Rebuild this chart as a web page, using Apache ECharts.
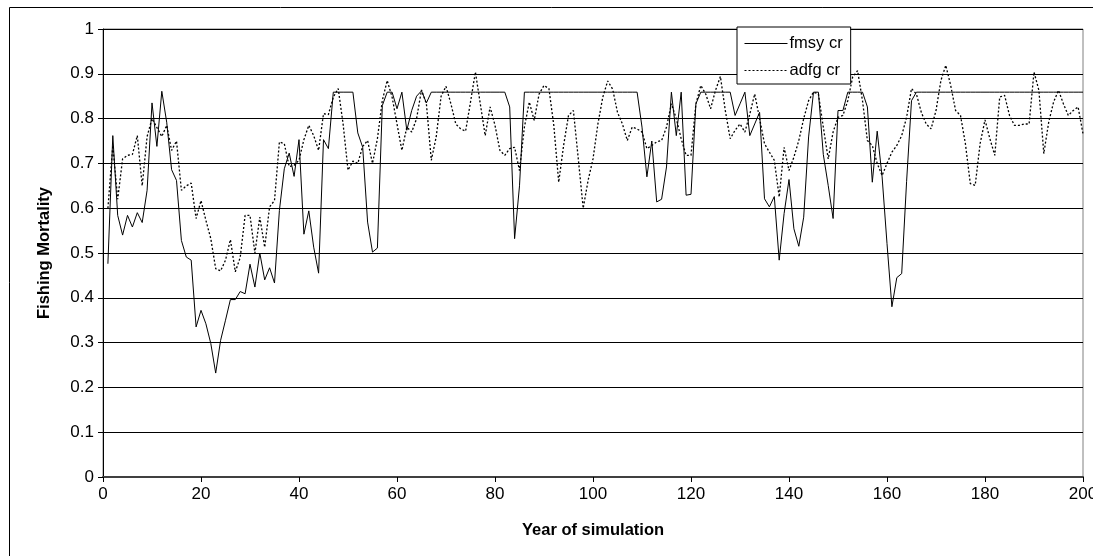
<!DOCTYPE html>
<html>
<head>
<meta charset="utf-8">
<script src="https://cdn.jsdelivr.net/npm/echarts@6/dist/echarts.min.js"></script>
<style>
html,body{margin:0;padding:0;background:#fff;}
#chart{width:1093px;height:556px;}
</style>
</head>
<body>
<div id="chart"></div>
<script>
// Years of simulation (x categories)
const years = [
1,2,3,4,5,6,7,8,9,10,11,12,13,14,15,16,17,18,19,20,
21,22,23,24,25,26,27,28,29,30,31,32,33,34,35,36,37,38,39,40,
41,42,43,44,45,46,47,48,49,50,51,52,53,54,55,56,57,58,59,60,
61,62,63,64,65,66,67,68,69,70,71,72,73,74,75,76,77,78,79,80,
81,82,83,84,85,86,87,88,89,90,91,92,93,94,95,96,97,98,99,100,
101,102,103,104,105,106,107,108,109,110,111,112,113,114,115,116,117,118,119,120,
121,122,123,124,125,126,127,128,129,130,131,132,133,134,135,136,137,138,139,140,
141,142,143,144,145,146,147,148,149,150,151,152,153,154,155,156,157,158,159,160,
161,162,163,164,165,166,167,168,169,170,171,172,173,174,175,176,177,178,179,180,
181,182,183,184,185,186,187,188,189,190,191,192,193,194,195,196,197,198,199,200];

// fmsy cr (solid)
const fmsyCr = [
0.476,0.762,0.584,0.540,0.584,0.558,0.590,0.568,0.640,0.835,
0.738,0.861,0.792,0.686,0.662,0.528,0.491,0.484,0.335,0.372,
0.342,0.298,0.232,0.305,0.350,0.396,0.396,0.414,0.409,0.475,
0.424,0.500,0.440,0.467,0.433,0.595,0.688,0.723,0.671,0.753,
0.542,0.594,0.513,0.455,0.753,0.733,0.859,0.859,0.859,0.859,
0.859,0.768,0.736,0.569,0.502,0.511,0.829,0.859,0.859,0.822,
0.859,0.774,0.818,0.850,0.862,0.835,0.859,0.859,0.859,0.859,
0.859,0.859,0.859,0.859,0.859,0.859,0.859,0.859,0.859,0.859,
0.859,0.859,0.826,0.532,0.650,0.859,0.859,0.859,0.859,0.859,
0.859,0.859,0.859,0.859,0.859,0.859,0.859,0.859,0.859,0.859,
0.859,0.859,0.859,0.859,0.859,0.859,0.859,0.859,0.859,0.781,
0.670,0.750,0.614,0.620,0.692,0.859,0.762,0.859,0.629,0.631,
0.833,0.859,0.859,0.859,0.859,0.859,0.859,0.859,0.807,0.833,
0.859,0.762,0.788,0.814,0.621,0.603,0.626,0.484,0.588,0.664,
0.554,0.515,0.580,0.759,0.859,0.859,0.720,0.651,0.577,0.818,
0.818,0.859,0.859,0.859,0.859,0.826,0.658,0.772,0.670,0.521,
0.380,0.445,0.454,0.660,0.840,0.859,0.859,0.859,0.859,0.859,
0.859,0.859,0.859,0.859,0.859,0.859,0.859,0.859,0.859,0.859,
0.859,0.859,0.859,0.859,0.859,0.859,0.859,0.859,0.859,0.859,
0.859,0.859,0.859,0.859,0.859,0.859,0.859,0.859,0.859,0.859];

// adfg cr (dotted)
const adfgCr = [
0.600,0.740,0.620,0.710,0.718,0.720,0.762,0.650,0.760,0.800,
0.780,0.760,0.785,0.729,0.750,0.640,0.650,0.656,0.577,0.617,
0.573,0.532,0.465,0.460,0.484,0.530,0.458,0.490,0.584,0.584,
0.500,0.580,0.513,0.603,0.617,0.748,0.744,0.693,0.696,0.707,
0.753,0.785,0.762,0.729,0.811,0.809,0.848,0.867,0.788,0.685,
0.705,0.700,0.738,0.751,0.700,0.755,0.840,0.885,0.848,0.788,
0.729,0.781,0.770,0.800,0.864,0.833,0.707,0.759,0.850,0.872,
0.833,0.788,0.777,0.772,0.837,0.904,0.833,0.762,0.826,0.785,
0.729,0.718,0.733,0.736,0.684,0.781,0.837,0.796,0.855,0.874,
0.867,0.785,0.658,0.740,0.807,0.818,0.710,0.600,0.662,0.710,
0.788,0.848,0.884,0.866,0.814,0.788,0.751,0.781,0.777,0.770,
0.733,0.740,0.748,0.751,0.781,0.833,0.800,0.755,0.718,0.718,
0.833,0.874,0.855,0.822,0.863,0.894,0.818,0.755,0.774,0.788,
0.770,0.810,0.855,0.800,0.744,0.725,0.707,0.625,0.736,0.684,
0.714,0.751,0.800,0.840,0.859,0.855,0.781,0.710,0.770,0.803,
0.807,0.840,0.893,0.907,0.840,0.751,0.740,0.700,0.673,0.700,
0.725,0.740,0.762,0.803,0.867,0.855,0.814,0.788,0.777,0.818,
0.885,0.919,0.874,0.818,0.807,0.744,0.655,0.651,0.744,0.797,
0.755,0.718,0.848,0.852,0.807,0.785,0.785,0.788,0.788,0.904,
0.863,0.722,0.792,0.837,0.863,0.833,0.807,0.818,0.826,0.766];

const seriesNames = ['fmsy cr', 'adfg cr'];
const xTitle = 'Year of simulation';
const yTitle = 'Fishing Mortality';

function pairs(xs, ys) { return xs.map((x, i) => [x, ys[i]]); }

const chart = echarts.init(document.getElementById('chart'), null, {renderer: 'canvas'});
const FONT = '"Liberation Sans", Arial, sans-serif';

chart.setOption({
  animation: false,
  backgroundColor: '#fff',
  textStyle: {fontFamily: FONT, color: '#000'},
  graphic: [{
    type: 'rect',
    shape: {x: 9.5, y: 7.5, width: 1100, height: 600},
    style: {fill: 'none', stroke: '#000', lineWidth: 1},
    z: 0, silent: true
  }],
  grid: {
    left: 103, right: 10, top: 29, bottom: 79,
    outerBoundsMode: 'none', containLabel: false,
    show: true, borderColor: '#808080', borderWidth: 1, backgroundColor: 'transparent'
  },
  legend: {
    orient: 'vertical',
    left: 737, top: 27,
    padding: [8, 8, 5, 7],
    itemGap: 10,
    itemWidth: 43, itemHeight: 14,
    borderColor: '#000', borderWidth: 1,
    backgroundColor: '#fff',
    itemStyle: {opacity: 0},
    lineStyle: {width: 1},
    textStyle: {fontFamily: FONT, fontSize: 16.5, color: '#000', padding: [0, 0, 0, -3]},
    data: seriesNames
  },
  xAxis: {
    type: 'value', min: 0, max: 200, interval: 20,
    name: xTitle, nameLocation: 'middle', nameGap: 45,
    nameTextStyle: {fontFamily: FONT, fontSize: 16.5, fontWeight: 'bold', color: '#000'},
    axisLine: {show: true, lineStyle: {color: '#404040', width: 2}},
    axisTick: {show: true, inside: false, length: 5, lineStyle: {color: '#000'}},
    axisLabel: {fontFamily: FONT, fontSize: 17, color: '#000', margin: 9},
    splitLine: {show: false}
  },
  yAxis: {
    type: 'value', min: 0, max: 1, interval: 0.1,
    name: yTitle, nameLocation: 'middle', nameGap: 50, nameRotate: 90,
    nameTextStyle: {fontFamily: FONT, fontSize: 16.5, fontWeight: 'bold', color: '#000'},
    axisLine: {show: true, onZero: false, lineStyle: {color: '#000', width: 1}},
    axisTick: {show: true, inside: false, length: 5, lineStyle: {color: '#000'}},
    axisLabel: {fontFamily: FONT, fontSize: 17, color: '#000', margin: 9},
    splitLine: {show: true, lineStyle: {color: '#000', width: 1}}
  },
  series: [
    {
      name: seriesNames[0], type: 'line', data: pairs(years, fmsyCr),
      symbol: 'none', showSymbol: false,
      lineStyle: {color: '#000', width: 1, type: 'solid'},
      itemStyle: {color: '#000'}, z: 3
    },
    {
      name: seriesNames[1], type: 'line', data: pairs(years, adfgCr),
      symbol: 'none', showSymbol: false,
      lineStyle: {color: '#000', width: 1.3, type: [2, 2]},
      itemStyle: {color: '#000'}, z: 4
    }
  ]
});
</script>
</body>
</html>
